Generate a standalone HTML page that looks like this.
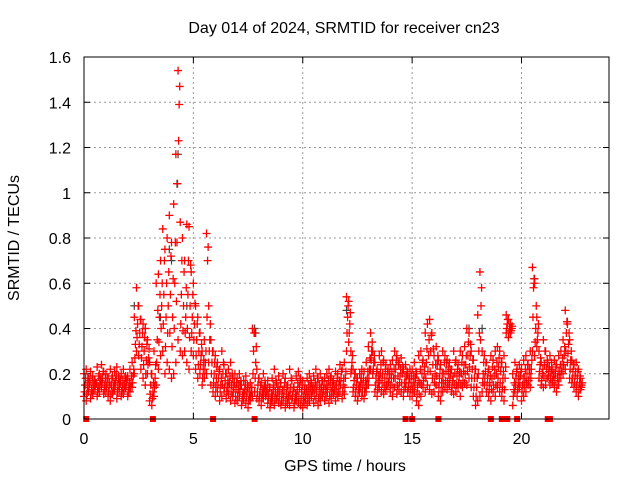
<!DOCTYPE html>
<html><head><meta charset="utf-8"><style>body{margin:0;background:#fff}svg{display:block;font-family:"Liberation Sans",sans-serif}</style></head>
<body>
<svg id="chart" width="640" height="480">
<text x="344" y="33" text-anchor="middle" font-size="16">Day 014 of 2024, SRMTID for receiver cn23</text>
<text x="345" y="471" text-anchor="middle" font-size="16">GPS time / hours</text>
<text transform="translate(19,238) rotate(-90)" text-anchor="middle" font-size="16">SRMTID / TECUs</text>
<g id="grid"></g><g id="marks"></g>
<rect x="84" y="57" width="525" height="362" fill="none" stroke="#000" stroke-width="1"/>
</svg>
<script>
const xTicks=[0,5,10,15,20];
const yTicks=[0,0.2,0.4,0.6,0.8,1,1.2,1.4,1.6];
const yTickLabels=["0","0.2","0.4","0.6","0.8","1","1.2","1.4","1.6"];
const lowVals=[.10,.08,.12,.09,.11,.13,.10,.12,.14,.11,
.12,.10,.08,.11,.13,.09,.12,.10,.11,.14,
.10,.12,.14,.20,.30,.28,.22,.18,.15,.20,
.08,.06,.10,.15,.22,.28,.30,.20,.25,.22,
.18,.20,.25,.35,.30,.28,.30,.25,.22,.30,
.28,.22,.18,.20,.15,.18,.20,.25,.15,.12,
.10,.12,.08,.10,.12,.09,.11,.08,.10,.07,
.08,.10,.06,.09,.07,.05,.08,.10,.12,.09,
.08,.06,.09,.10,.07,.05,.08,.06,.09,.07,
.06,.08,.05,.07,.06,.09,.05,.08,.07,.06,
.05,.07,.06,.08,.10,.07,.09,.06,.08,.10,
.08,.10,.07,.09,.11,.08,.10,.12,.09,.11,
.30,.34,.20,.12,.10,.08,.12,.10,.09,.12,
.15,.22,.20,.12,.10,.14,.12,.11,.13,.15,
.12,.10,.14,.11,.13,.12,.10,.14,.12,.10,
.10,.12,.08,.06,.10,.14,.12,.15,.13,.11,
.12,.15,.10,.08,.12,.14,.13,.15,.12,.11,
.12,.14,.10,.14,.16,.15,.18,.14,.10,.06,
.08,.10,.12,.15,.12,.10,.08,.12,.10,.14,
.12,.10,.08,.38,.36,.38,.06,.12,.10,.14,
.08,.10,.12,.15,.14,.30,.28,.32,.18,.15,
.14,.15,.18,.15,.16,.14,.12,.15,.18,.20,
.22,.25,.18,.16,.14,.12,.10,.13];
const highVals=[.20,.22,.18,.21,.19,.17,.23,.20,.24,.21,
.20,.18,.22,.19,.21,.23,.18,.20,.22,.19,
.19,.22,.25,.45,.58,.50,.44,.42,.40,.35,
.25,.20,.30,.60,.64,.70,.84,.75,.80,.90,
.78,.95,1.17,1.54,.87,.80,.70,.86,.85,.65,
.60,.50,.45,.38,.30,.35,.82,.50,.35,.30,
.28,.25,.22,.30,.24,.20,.22,.25,.18,.20,
.18,.20,.15,.17,.19,.14,.16,.40,.38,.22,
.18,.16,.20,.15,.17,.14,.18,.22,.16,.19,
.16,.20,.18,.15,.22,.17,.14,.19,.21,.18,
.17,.15,.18,.20,.16,.19,.22,.18,.20,.17,
.18,.20,.22,.19,.17,.21,.20,.24,.22,.25,
.54,.52,.30,.22,.20,.18,.20,.22,.21,.25,
.32,.38,.30,.25,.22,.28,.30,.26,.24,.22,
.24,.26,.30,.28,.25,.27,.22,.24,.20,.22,
.22,.25,.20,.28,.30,.26,.38,.42,.44,.38,
.28,.32,.26,.24,.30,.28,.26,.25,.22,.30,
.26,.24,.30,.28,.32,.40,.38,.30,.26,.22,
.46,.65,.30,.28,.25,.22,.28,.26,.30,.32,
.30,.25,.28,.46,.44,.42,.20,.25,.22,.24,
.22,.26,.28,.24,.30,.67,.60,.45,.30,.25,
.35,.30,.25,.28,.22,.26,.24,.28,.30,.35,
.48,.42,.35,.26,.24,.25,.22,.18];
const midVals=[.15,.14,.16,.13,.15,.16,.14,.17,.18,.15,
.16,.14,.15,.14,.17,.15,.16,.14,.15,.17,
.14,.16,.19,.33,.42,.38,.32,.30,.26,.27,
.15,.12,.18,.35,.45,.50,.55,.45,.50,.55,
.45,.60,.78,1.39,.55,.50,.45,.55,.50,.45,
.42,.35,.30,.28,.22,.25,.70,.35,.25,.20,
.18,.18,.15,.20,.17,.14,.16,.15,.14,.13,
.13,.15,.10,.13,.12,.10,.12,.30,.25,.15,
.12,.11,.14,.12,.11,.09,.13,.12,.12,.13,
.11,.13,.11,.10,.14,.12,.09,.13,.14,.12,
.10,.11,.12,.14,.13,.13,.15,.12,.14,.13,
.13,.15,.14,.14,.13,.15,.15,.18,.15,.18,
.45,.42,.25,.17,.15,.13,.16,.15,.14,.18,
.22,.30,.25,.18,.16,.20,.20,.18,.18,.18,
.18,.18,.22,.19,.19,.20,.16,.19,.16,.16,
.16,.18,.14,.16,.20,.20,.25,.28,.30,.24,
.20,.24,.18,.16,.20,.21,.20,.20,.17,.20,
.19,.19,.20,.21,.24,.28,.28,.22,.18,.14,
.30,.50,.20,.21,.18,.16,.18,.19,.20,.23,
.21,.18,.18,.42,.40,.40,.13,.18,.16,.19,
.15,.18,.20,.20,.22,.58,.40,.38,.24,.20,
.24,.22,.21,.21,.19,.20,.18,.21,.24,.28,
.38,.33,.26,.21,.19,.18,.16,.15];
const q1Vals=[.12,.11,.14,.11,.13,.15,.12,.15,.16,.13,
.14,.12,.11,.12,.15,.12,.14,.12,.13,.15,
.12,.14,.16,.27,.36,.33,.27,.24,.20,.24,
.11,.09,.14,.25,.34,.40,.42,.32,.38,.38,
.32,.40,.52,1.23,.42,.39,.38,.40,.36,.38,
.35,.28,.24,.24,.18,.22,.45,.30,.20,.16,
.14,.15,.12,.15,.14,.12,.14,.12,.12,.10,
.10,.12,.08,.11,.10,.08,.10,.20,.18,.12,
.10,.09,.12,.11,.09,.07,.10,.09,.10,.10,
.08,.10,.08,.09,.10,.10,.07,.10,.10,.09,
.08,.09,.09,.11,.12,.10,.12,.09,.11,.12,
.10,.12,.10,.12,.12,.11,.12,.15,.12,.14,
.38,.38,.22,.14,.12,.10,.14,.12,.12,.15,
.18,.26,.22,.15,.13,.17,.16,.14,.15,.16,
.15,.14,.18,.15,.16,.16,.13,.16,.14,.13,
.13,.15,.11,.11,.15,.17,.18,.21,.21,.18,
.16,.19,.14,.12,.16,.17,.16,.18,.14,.15,
.15,.16,.15,.17,.20,.21,.23,.18,.14,.10,
.20,.35,.16,.18,.15,.13,.13,.15,.15,.18,
.16,.14,.13,.40,.38,.39,.10,.15,.13,.16,
.12,.14,.16,.17,.18,.45,.34,.35,.21,.17,
.19,.18,.19,.18,.17,.17,.15,.18,.21,.24,
.30,.29,.22,.18,.16,.15,.13,.14];
const q2Vals=[.18,.18,.17,.17,.17,.16,.19,.18,.21,.18,
.18,.16,.18,.16,.19,.19,.17,.17,.18,.18,
.16,.19,.22,.39,.50,.44,.38,.36,.33,.31,
.20,.16,.24,.48,.55,.60,.70,.60,.65,.72,
.62,.78,1.04,1.47,.70,.65,.58,.70,.68,.55,
.51,.42,.38,.33,.26,.30,.76,.42,.30,.25,
.23,.21,.18,.25,.20,.17,.19,.20,.16,.16,
.15,.17,.12,.15,.15,.12,.14,.38,.32,.18,
.15,.13,.17,.13,.14,.11,.15,.17,.14,.16,
.13,.16,.14,.12,.18,.14,.11,.16,.17,.15,
.13,.13,.15,.17,.14,.16,.18,.15,.17,.15,
.15,.17,.18,.16,.15,.18,.17,.21,.18,.21,
.50,.47,.28,.20,.18,.15,.18,.18,.17,.21,
.27,.34,.28,.21,.19,.24,.25,.22,.21,.20,
.21,.22,.26,.24,.22,.23,.19,.21,.18,.19,
.19,.21,.17,.22,.25,.23,.31,.35,.37,.31,
.24,.28,.22,.20,.25,.25,.23,.22,.19,.25,
.22,.21,.25,.24,.28,.34,.33,.26,.22,.18,
.38,.58,.25,.25,.21,.19,.23,.22,.25,.27,
.25,.21,.23,.44,.42,.41,.16,.21,.19,.21,
.18,.22,.24,.22,.26,.62,.50,.42,.27,.22,
.30,.26,.23,.25,.20,.23,.21,.24,.27,.32,
.43,.38,.30,.24,.21,.21,.19,.16];
const grayT=[4.3,4.25,3.9,7.8,7.85,17.6,20.6,22.1,2.3,4.7,2.8,3.5,4.0,12.0,18.2];
const grayV=[1.17,1.04,0.75,0.40,0.38,0.40,0.62,0.43,0.50,0.50,0.40,0.45,0.70,0.48,0.40];
const zeroT=[0.1,3.15,5.9,7.8,14.7,15.0,16.2,18.6,19.1,19.35,19.8,21.2,21.3];
const X0=84,X1=609,Y0=419,Y1=57,XMAX=24,YMAX=1.6;
const xs=t=>X0+t/XMAX*(X1-X0), ys=v=>Y0-v/YMAX*(Y0-Y1);
const NS="http://www.w3.org/2000/svg";
const grid=document.getElementById('grid'), marks=document.getElementById('marks');
function mk(tag,a,p){const e=document.createElementNS(NS,tag);for(const k in a)e.setAttribute(k,a[k]);p.appendChild(e);return e;}
xTicks.forEach(t=>{const x=xs(t);
 if(t>0){const g=mk('line',{x1:x,x2:x,y1:Y0,y2:Y1,stroke:'#999','stroke-dasharray':'2,3'},grid);
 
 }
 mk('line',{x1:x,x2:x,y1:Y0,y2:Y0-6,stroke:'#000'},grid);mk('line',{x1:x,x2:x,y1:Y1,y2:Y1+6,stroke:'#000'},grid);
 const l=mk('text',{x:x,y:Y0+25,'text-anchor':'middle','font-size':16},grid);l.textContent=t;
 
 });
yTicks.forEach((v,i)=>{const y=ys(v);
 if(v>0&&v<YMAX){const g=mk('line',{x1:X0,x2:X1,y1:y,y2:y,stroke:'#999','stroke-dasharray':'2,3'},grid);
 
 }
 mk('line',{x1:X0,x2:X0+6,y1:y,y2:y,stroke:'#000'},grid);mk('line',{x1:X1,x2:X1-6,y1:y,y2:y,stroke:'#000'},grid);
 const l=mk('text',{x:X0-13,y:y+6,'text-anchor':'end','font-size':16},grid);l.textContent=yTickLabels[i];
 
 });
let d='',dg='';
const plus=(t,v)=>{const x=xs(t),y=ys(v);return `M${x-4},${y}h8M${x},${y-4}v8`;};
lowVals.forEach((v,i)=>{const t=i*0.1;
 d+=plus(t,v)+plus(t+0.025,q1Vals[i])+plus(t+0.05,midVals[i])+plus(t+0.075,q2Vals[i])+plus(t,highVals[i]);});
grayT.forEach((t,i)=>{dg+=plus(t,grayV[i]);});
const pg=mk('path',{d:dg,stroke:'#444','stroke-width':1.2,fill:'none'},marks);


const pr=mk('path',{d:d,stroke:'#f00','stroke-width':1.3,fill:'none'},marks);


zeroT.forEach(t=>{const r=mk('rect',{x:xs(t)-3,y:Y0-3,width:6,height:6,fill:'#f00'},marks);
 
 });
</script>
</body></html>
